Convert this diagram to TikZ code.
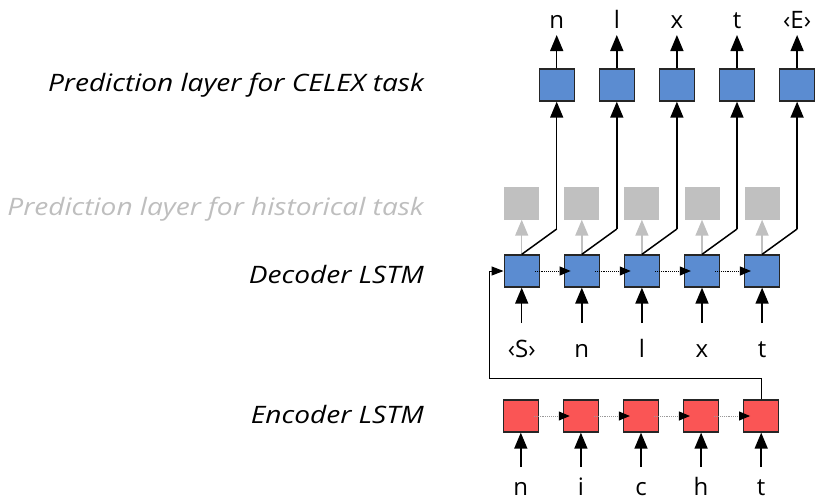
\documentclass[tikz,border=0pt]{standalone}
\usepackage{fontspec}
\setmainfont{Open Sans}
\newfontfamily\lblfont[FakeStretch=1.17]{Open Sans}
\usetikzlibrary{arrows.meta,calc}
\definecolor{blu}{RGB}{91,140,209}
\definecolor{rd}{RGB}{250,85,85}
\definecolor{gbox}{RGB}{192,192,192}
\definecolor{gtxt}{RGB}{190,190,190}
\begin{document}
\begin{tikzpicture}[x=1pt,y=-1pt,
  cell/.style={draw=black!85, line width=1.3pt, minimum width=35pt, minimum height=32pt, inner sep=0pt},
  dec/.style={cell, fill=blu},
  enc/.style={cell, fill=rd},
  ghost/.style={fill=gbox, minimum width=35pt, minimum height=33pt, inner sep=0pt},
  tip/.style={-{Triangle[length=16pt,width=13pt]}, line width=1.5pt},
  gtip/.style={tip, draw=gbox, color=gbox},
  rec/.style={densely dotted, line width=0.9pt, -{Triangle[length=11pt,width=9pt,color=black]}},
  sym/.style={font=\fontsize{24}{28}\selectfont, inner sep=0pt, anchor=base},
  lbl/.style={font=\lblfont\fontsize{24}{28}\selectfont\itshape, anchor=base east, inner sep=0pt}]
\useasboundingbox (0,0) rectangle (816,499);

\node[lbl] (l1) at (424,91.5) {Prediction layer for CELEX task};
\node[lbl, text=gtxt] (l2) at (424,215) {Prediction layer for historical task};
\node[lbl] (l3) at (424,283) {Decoder LSTM};
\node[lbl] (l4) at (424,423) {Encoder LSTM};

\foreach \i/\o/\n in {0/n/‹S›,1/l/n,2/x/l,3/t/x,4/‹E›/t}{
  \pgfmathsetmacro{\xx}{521.7+60.1*\i}
  \node[dec] (d\i) at (\xx,271) {};
  \node[ghost] (g\i) at (\xx,203) {};
  \node[dec] (t\i) at (\xx+35,85) {};
  \node[sym] (o\i) at (\xx+35,28) {\o};
  \coordinate (ot\i) at (\xx+35,35);
  \coordinate (k\i) at (\xx+35,229);
  \coordinate (in\i) at (\xx,323);
  \node[sym] (s\i) at (\xx,357) {\n};
  \draw[gtip] (d\i.north) -- (g\i.south);
  \draw[line width=1.5pt] (d\i.north) -- (k\i);
  \draw[tip] (k\i) -- (t\i.south);
  \draw[tip] (t\i.north) -- (ot\i);
  \draw[tip] (in\i) -- (d\i.south);
}
\foreach \i/\c in {0/n,1/i,2/c,3/h,4/t}{
  \pgfmathsetmacro{\xx}{520.8+60.1*\i}
  \node[enc] (e\i) at (\xx,416) {};
  \coordinate (ein\i) at (\xx,467);
  \node[sym] (c\i) at (\xx,495) {\c};
  \draw[tip] (ein\i) -- (e\i.south);
}
\foreach \i/\j in {0/1,1/2,2/3,3/4}{
  \draw[rec] ([xshift=-5pt]d\i.east) -- ([xshift=7pt]d\j.west);
  \draw[rec, draw=black!40] ([xshift=-5pt]e\i.east) -- ([xshift=7pt]e\j.west);
}
\coordinate (a1) at (e4.north |- 0,378);
\coordinate (a2) at (489.3,378);
\coordinate (a3) at (489.3,271);
\draw[line width=1pt, -{Triangle[length=12pt,width=9pt]}] (e4.north) -- (a1) -- (a2) -- (a3) -- (d0.west);
\end{tikzpicture}
\end{document}
